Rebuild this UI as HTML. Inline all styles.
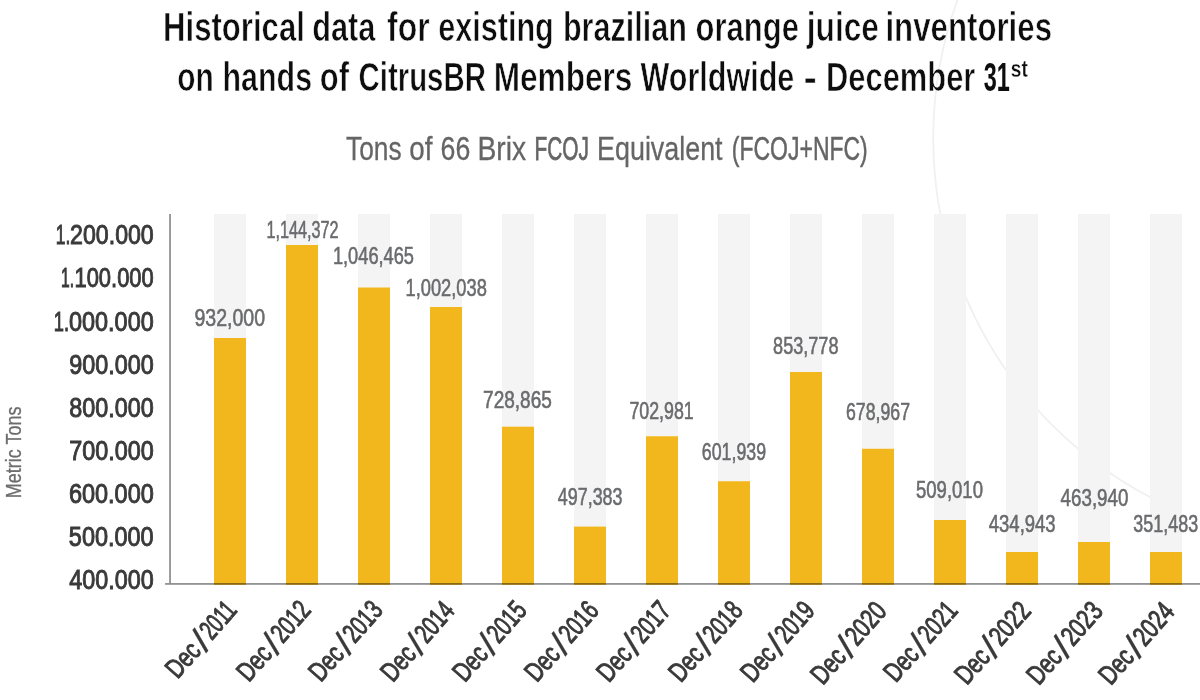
<!DOCTYPE html>
<html lang="en"><head><meta charset="utf-8"><title>Historical data for existing brazilian orange juice inventories</title>
<style>
html,body{margin:0;padding:0;background:#fff;}
body{width:1200px;height:700px;overflow:hidden;}
svg{display:block;}
text{font-family:"Liberation Sans", sans-serif;}
.title{font-size:40.7px;font-weight:bold;fill:#0d0d0d;stroke:#fff;stroke-width:0.7px;}
.t31{stroke-width:0;}
.sup{font-size:24px;stroke-width:0.3px;}
.sub{font-size:33.4px;fill:#656565;stroke:#656565;stroke-width:0.3px;}
.subb{stroke-width:0.75px;}
.subc{stroke-width:0.5px;}
.yl{font-size:27.6px;fill:#3a3a3a;stroke:#3a3a3a;stroke-width:1px;}
.vl{font-size:24.3px;fill:#6a6b6d;stroke:#6a6b6d;stroke-width:0.6px;}
.xl{font-size:27.6px;fill:#3a3a3a;stroke:#3a3a3a;stroke-width:1px;}
.xs{font-size:34.6px;stroke-width:0.2px;}
.mt{font-size:21.5px;fill:#6c6c6c;stroke:#6c6c6c;stroke-width:0.3px;}
</style></head><body>
<svg width="1200" height="700" viewBox="0 0 1200 700">
<rect width="1200" height="700" fill="#fff"/>
<g id="gfx">
<path d="M957.5 0 A405.7 405.7 0 0 0 1170 507" fill="none" stroke="#f0f0f0" stroke-width="1.8"/>
<g fill="#f4f4f4">
<rect x="214" y="214" width="32" height="370.8"/>
<rect x="286" y="214" width="32" height="370.8"/>
<rect x="358" y="214" width="32" height="370.8"/>
<rect x="430" y="214" width="32" height="370.8"/>
<rect x="502" y="214" width="32" height="370.8"/>
<rect x="574" y="214" width="32" height="370.8"/>
<rect x="646" y="214" width="32" height="370.8"/>
<rect x="718" y="214" width="32" height="370.8"/>
<rect x="790" y="214" width="32" height="370.8"/>
<rect x="862" y="214" width="32" height="370.8"/>
<rect x="934" y="214" width="32" height="370.8"/>
<rect x="1006" y="214" width="32" height="370.8"/>
<rect x="1078" y="214" width="32" height="370.8"/>
<rect x="1150" y="214" width="32" height="370.8"/>
</g>
<g fill="#f2b71d">
<rect x="214" y="338" width="32" height="246.8"/>
<rect x="286" y="245" width="32" height="339.8"/>
<rect x="358" y="287.5" width="32" height="297.3"/>
<rect x="430" y="307" width="32" height="277.8"/>
<rect x="502" y="426.7" width="32" height="158.1"/>
<rect x="574" y="526.6" width="32" height="58.2"/>
<rect x="646" y="436.25" width="32" height="148.55"/>
<rect x="718" y="481.25" width="32" height="103.55"/>
<rect x="790" y="372" width="32" height="212.8"/>
<rect x="862" y="448.75" width="32" height="136.05"/>
<rect x="934" y="520" width="32" height="64.8"/>
<rect x="1006" y="552" width="32" height="32.8"/>
<rect x="1078" y="542" width="32" height="42.8"/>
<rect x="1150" y="552" width="32" height="32.8"/>
</g>
<g fill="rgba(0,0,0,0.43)"><rect x="169.15" y="214" width="1.8" height="369.1"/><rect x="165.1" y="583.1" width="1034.9" height="1.65" fill="rgba(0,0,0,0.47)"/></g>
</g>
<g id="txt">
<text id="t1w0" class="title" x="163.05" y="40.7" textLength="141.78" lengthAdjust="spacingAndGlyphs">Historical</text>
<text id="t1w1" class="title" x="312.22" y="40.7" textLength="63.16" lengthAdjust="spacingAndGlyphs">data</text>
<text id="t1w2" class="title" x="387.06" y="40.7" textLength="42.57" lengthAdjust="spacingAndGlyphs">for</text>
<text id="t1w3" class="title" x="438.16" y="40.7" textLength="115.66" lengthAdjust="spacingAndGlyphs">existing</text>
<text id="t1w4" class="title" x="562.97" y="40.7" textLength="123.87" lengthAdjust="spacingAndGlyphs">brazilian</text>
<text id="t1w5" class="title" x="695.59" y="40.7" textLength="103.32" lengthAdjust="spacingAndGlyphs">orange</text>
<text id="t1w6" class="title" x="806.75" y="40.7" textLength="72.22" lengthAdjust="spacingAndGlyphs">juice</text>
<text id="t1w7" class="title" x="885.45" y="40.7" textLength="166.58" lengthAdjust="spacingAndGlyphs">inventories</text>
<text id="t2w0" class="title" x="177.29" y="90.8" textLength="36.49" lengthAdjust="spacingAndGlyphs">on</text>
<text id="t2w1" class="title" x="222.55" y="90.8" textLength="89.52" lengthAdjust="spacingAndGlyphs">hands</text>
<text id="t2w2" class="title" x="319.84" y="90.8" textLength="29.26" lengthAdjust="spacingAndGlyphs">of</text>
<text id="t2w3" class="title" x="358.56" y="90.8" textLength="127.32" lengthAdjust="spacingAndGlyphs">CitrusBR</text>
<text id="t2w4" class="title" x="493.67" y="90.8" textLength="138.71" lengthAdjust="spacingAndGlyphs">Members</text>
<text id="t2w5" class="title" x="640.55" y="90.8" textLength="153.71" lengthAdjust="spacingAndGlyphs">Worldwide</text>
<text id="t2b" class="title" x="803.46" y="90.8" textLength="13.39" lengthAdjust="spacingAndGlyphs">-</text>
<text id="t2c" class="title" x="826.01" y="90.8" textLength="149.38" lengthAdjust="spacingAndGlyphs">December</text>
<text id="t2d" class="title t31" x="983.85" y="90.8" textLength="26.06" lengthAdjust="spacingAndGlyphs">31</text>
<text id="t2e" class="title sup" x="1010.79" y="77.2" textLength="16.97" lengthAdjust="spacingAndGlyphs">st</text>
<text id="sub0" class="sub" x="346.01" y="159.5" textLength="55.60" lengthAdjust="spacingAndGlyphs">Tons</text>
<text id="sub1" class="sub" x="409.35" y="159.5" textLength="23.15" lengthAdjust="spacingAndGlyphs">of</text>
<text id="sub2" class="sub" x="440.57" y="159.5" textLength="29.79" lengthAdjust="spacingAndGlyphs">66</text>
<text id="sub3" class="sub" x="477.45" y="159.5" textLength="48.62" lengthAdjust="spacingAndGlyphs">Brix</text>
<text id="sub4" class="sub subb" x="534.48" y="159.5" textLength="54.31" lengthAdjust="spacingAndGlyphs">FCOJ</text>
<text id="sub5" class="sub" x="597.08" y="159.5" textLength="125.51" lengthAdjust="spacingAndGlyphs">Equivalent</text>
<text id="sub6" class="sub subc" x="731.85" y="159.5" textLength="135.93" lengthAdjust="spacingAndGlyphs">(FCOJ+NFC)</text>
<text id="y0a" class="yl" x="55.79" y="244.3" textLength="14.59" lengthAdjust="spacingAndGlyphs">1.</text>
<text id="y0b" class="yl" x="70.10" y="244.3" textLength="83.64" lengthAdjust="spacingAndGlyphs">200.000</text>
<text id="y1a" class="yl" x="61.02" y="287" textLength="13.04" lengthAdjust="spacingAndGlyphs">1.</text>
<text id="y1b" class="yl" x="74.52" y="287" textLength="79.15" lengthAdjust="spacingAndGlyphs">100.000</text>
<text id="y2a" class="yl" x="53.82" y="331" textLength="15.27" lengthAdjust="spacingAndGlyphs">1.</text>
<text id="y2b" class="yl" x="69.00" y="331" textLength="84.73" lengthAdjust="spacingAndGlyphs">000.000</text>
<text id="y3" class="yl" x="69.16" y="373.6" textLength="84.51" lengthAdjust="spacingAndGlyphs">900.000</text>
<text id="y4" class="yl" x="69.23" y="416.5" textLength="84.49" lengthAdjust="spacingAndGlyphs">800.000</text>
<text id="y5" class="yl" x="69.22" y="460.4" textLength="84.59" lengthAdjust="spacingAndGlyphs">700.000</text>
<text id="y6" class="yl" x="68.90" y="502.6" textLength="84.90" lengthAdjust="spacingAndGlyphs">600.000</text>
<text id="y7" class="yl" x="68.83" y="545.8" textLength="84.83" lengthAdjust="spacingAndGlyphs">500.000</text>
<text id="y8" class="yl" x="69.37" y="589" textLength="84.38" lengthAdjust="spacingAndGlyphs">400.000</text>
<text id="v0" class="vl" x="194.42" y="326.2" textLength="70.71" lengthAdjust="spacingAndGlyphs">932,000</text>
<text id="v1" class="vl" x="266.40" y="238.0" textLength="72.10" lengthAdjust="spacingAndGlyphs">1,144,372</text>
<text id="v2" class="vl" x="332.93" y="263.6" textLength="81.07" lengthAdjust="spacingAndGlyphs">1,046,465</text>
<text id="v3" class="vl" x="405.55" y="296.1" textLength="81.24" lengthAdjust="spacingAndGlyphs">1,002,038</text>
<text id="v4" class="vl" x="483.09" y="407.8" textLength="68.69" lengthAdjust="spacingAndGlyphs">728,865</text>
<text id="v5" class="vl" x="557.84" y="504.7" textLength="64.70" lengthAdjust="spacingAndGlyphs">497,383</text>
<text id="v6" class="vl" x="629.42" y="419.15" textLength="64.32" lengthAdjust="spacingAndGlyphs">702,981</text>
<text id="v7" class="vl" x="701.86" y="460.4" textLength="64.19" lengthAdjust="spacingAndGlyphs">601,939</text>
<text id="v8" class="vl" x="773.09" y="353.8" textLength="65.41" lengthAdjust="spacingAndGlyphs">853,778</text>
<text id="v9" class="vl" x="846.00" y="419.9" textLength="63.98" lengthAdjust="spacingAndGlyphs">678,967</text>
<text id="v10" class="vl" x="916.03" y="498.3" textLength="66.96" lengthAdjust="spacingAndGlyphs">509,010</text>
<text id="v11" class="vl" x="988.75" y="532.1" textLength="66.91" lengthAdjust="spacingAndGlyphs">434,943</text>
<text id="v12" class="vl" x="1060.55" y="505.6" textLength="67.88" lengthAdjust="spacingAndGlyphs">463,940</text>
<text id="v13" class="vl" x="1133.34" y="532.0" textLength="64.77" lengthAdjust="spacingAndGlyphs">351,483</text>
<text id="mt" class="mt" transform="translate(20.6,498.2) rotate(-90)" textLength="91.6" lengthAdjust="spacingAndGlyphs">Metric Tons</text>
<g id="x0" transform="translate(237.90,611.30) rotate(-48.6)">
<text id="x0a" class="xl" x="-91.36" y="0" textLength="37.47" lengthAdjust="spacingAndGlyphs">Dec</text>
<text id="x0s" class="xl xs" x="-52.47" y="3.4" textLength="11.75" lengthAdjust="spacingAndGlyphs">/</text>
<text id="x0b" class="xl" x="-39.56" y="0" textLength="40.00" lengthAdjust="spacingAndGlyphs">2011</text>
</g>
<g id="x1" transform="translate(311.80,611.30) rotate(-48.6)">
<text id="x1a" class="xl" x="-95.52" y="0" textLength="37.33" lengthAdjust="spacingAndGlyphs">Dec</text>
<text id="x1s" class="xl xs" x="-56.56" y="3.4" textLength="11.36" lengthAdjust="spacingAndGlyphs">/</text>
<text id="x1b" class="xl" x="-43.88" y="0" textLength="44.46" lengthAdjust="spacingAndGlyphs">2012</text>
</g>
<g id="x2" transform="translate(383.80,611.40) rotate(-48.6)">
<text id="x2a" class="xl" x="-95.52" y="0" textLength="37.33" lengthAdjust="spacingAndGlyphs">Dec</text>
<text id="x2s" class="xl xs" x="-56.56" y="3.4" textLength="11.36" lengthAdjust="spacingAndGlyphs">/</text>
<text id="x2b" class="xl" x="-43.75" y="0" textLength="44.19" lengthAdjust="spacingAndGlyphs">2013</text>
</g>
<g id="x3" transform="translate(455.80,611.50) rotate(-48.6)">
<text id="x3a" class="xl" x="-95.52" y="0" textLength="37.33" lengthAdjust="spacingAndGlyphs">Dec</text>
<text id="x3s" class="xl xs" x="-56.56" y="3.4" textLength="11.36" lengthAdjust="spacingAndGlyphs">/</text>
<text id="x3b" class="xl" x="-43.85" y="0" textLength="43.85" lengthAdjust="spacingAndGlyphs">2014</text>
</g>
<g id="x4" transform="translate(527.80,611.60) rotate(-48.6)">
<text id="x4a" class="xl" x="-95.52" y="0" textLength="37.33" lengthAdjust="spacingAndGlyphs">Dec</text>
<text id="x4s" class="xl xs" x="-56.56" y="3.4" textLength="11.36" lengthAdjust="spacingAndGlyphs">/</text>
<text id="x4b" class="xl" x="-43.79" y="0" textLength="44.19" lengthAdjust="spacingAndGlyphs">2015</text>
</g>
<g id="x5" transform="translate(599.80,611.70) rotate(-48.6)">
<text id="x5a" class="xl" x="-95.52" y="0" textLength="37.33" lengthAdjust="spacingAndGlyphs">Dec</text>
<text id="x5s" class="xl xs" x="-56.56" y="3.4" textLength="11.36" lengthAdjust="spacingAndGlyphs">/</text>
<text id="x5b" class="xl" x="-43.76" y="0" textLength="44.18" lengthAdjust="spacingAndGlyphs">2016</text>
</g>
<g id="x6" transform="translate(671.80,611.80) rotate(-48.6)">
<text id="x6a" class="xl" x="-95.52" y="0" textLength="37.33" lengthAdjust="spacingAndGlyphs">Dec</text>
<text id="x6s" class="xl xs" x="-56.56" y="3.4" textLength="11.36" lengthAdjust="spacingAndGlyphs">/</text>
<text id="x6b" class="xl" x="-43.88" y="0" textLength="44.46" lengthAdjust="spacingAndGlyphs">2017</text>
</g>
<g id="x7" transform="translate(743.80,611.90) rotate(-48.6)">
<text id="x7a" class="xl" x="-95.52" y="0" textLength="37.33" lengthAdjust="spacingAndGlyphs">Dec</text>
<text id="x7s" class="xl xs" x="-56.56" y="3.4" textLength="11.36" lengthAdjust="spacingAndGlyphs">/</text>
<text id="x7b" class="xl" x="-43.75" y="0" textLength="44.18" lengthAdjust="spacingAndGlyphs">2018</text>
</g>
<g id="x8" transform="translate(815.80,612.00) rotate(-48.6)">
<text id="x8a" class="xl" x="-95.52" y="0" textLength="37.33" lengthAdjust="spacingAndGlyphs">Dec</text>
<text id="x8s" class="xl xs" x="-56.56" y="3.4" textLength="11.36" lengthAdjust="spacingAndGlyphs">/</text>
<text id="x8b" class="xl" x="-43.79" y="0" textLength="44.34" lengthAdjust="spacingAndGlyphs">2019</text>
</g>
<g id="x9" transform="translate(887.80,612.10) rotate(-48.6)">
<text id="x9a" class="xl" x="-98.36" y="0" textLength="37.47" lengthAdjust="spacingAndGlyphs">Dec</text>
<text id="x9s" class="xl xs" x="-59.47" y="3.4" textLength="11.75" lengthAdjust="spacingAndGlyphs">/</text>
<text id="x9b" class="xl" x="-46.56" y="0" textLength="46.91" lengthAdjust="spacingAndGlyphs">2020</text>
</g>
<g id="x10" transform="translate(958.80,611.90) rotate(-48.6)">
<text id="x10a" class="xl" x="-95.52" y="0" textLength="37.33" lengthAdjust="spacingAndGlyphs">Dec</text>
<text id="x10s" class="xl xs" x="-56.56" y="3.4" textLength="11.36" lengthAdjust="spacingAndGlyphs">/</text>
<text id="x10b" class="xl" x="-43.79" y="0" textLength="44.36" lengthAdjust="spacingAndGlyphs">2021</text>
</g>
<g id="x11" transform="translate(1031.80,612.30) rotate(-48.6)">
<text id="x11a" class="xl" x="-98.36" y="0" textLength="37.47" lengthAdjust="spacingAndGlyphs">Dec</text>
<text id="x11s" class="xl xs" x="-59.47" y="3.4" textLength="11.75" lengthAdjust="spacingAndGlyphs">/</text>
<text id="x11b" class="xl" x="-46.58" y="0" textLength="47.15" lengthAdjust="spacingAndGlyphs">2022</text>
</g>
<g id="x12" transform="translate(1103.80,612.40) rotate(-48.6)">
<text id="x12a" class="xl" x="-98.36" y="0" textLength="37.47" lengthAdjust="spacingAndGlyphs">Dec</text>
<text id="x12s" class="xl xs" x="-59.47" y="3.4" textLength="11.75" lengthAdjust="spacingAndGlyphs">/</text>
<text id="x12b" class="xl" x="-46.58" y="0" textLength="47.14" lengthAdjust="spacingAndGlyphs">2023</text>
</g>
<g id="x13" transform="translate(1175.80,612.50) rotate(-48.6)">
<text id="x13a" class="xl" x="-98.36" y="0" textLength="37.47" lengthAdjust="spacingAndGlyphs">Dec</text>
<text id="x13s" class="xl xs" x="-59.47" y="3.4" textLength="11.75" lengthAdjust="spacingAndGlyphs">/</text>
<text id="x13b" class="xl" x="-46.61" y="0" textLength="46.61" lengthAdjust="spacingAndGlyphs">2024</text>
</g>
</g>
</svg>
</body></html>
